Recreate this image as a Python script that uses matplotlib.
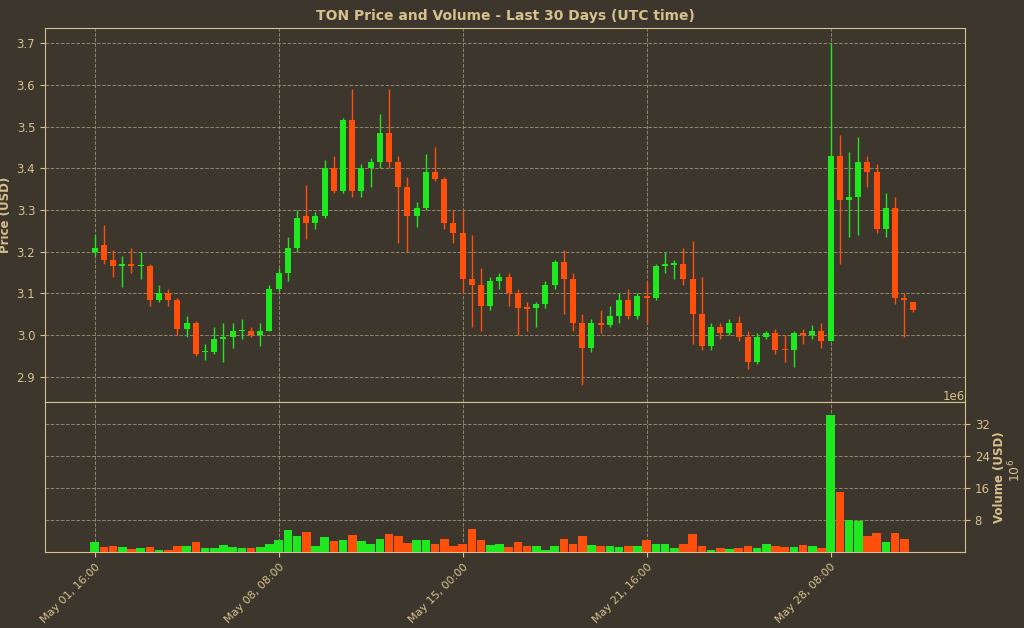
import matplotlib
matplotlib.use("Agg")
import matplotlib.pyplot as plt
import numpy as np

opens = [3.20,3.215,3.18,3.165,3.17,3.165,3.165,3.085,3.10,3.085,3.015,3.03,2.96,2.96,2.99,2.995,3.01,3.01,3.0,3.01,3.11,3.15,3.21,
         3.285,3.27,3.285,3.40,3.345,3.515,3.345,3.40,3.415,3.485,3.415,3.355,3.285,3.305,3.39,3.375,3.27,3.245,3.135,3.12,3.07,3.13,
         3.14,3.10,3.065,3.065,3.075,3.12,3.175,3.135,3.03,2.97,3.03,3.025,3.045,3.085,3.045,3.092,3.09,3.165,3.168,3.17,3.135,3.05,2.975,
         3.02,3.005,3.03,2.995,2.935,2.995,3.005,2.967,2.965,3.005,3.0,3.01,2.985,3.43,3.325,3.33,3.415,3.39,3.255,3.305,3.09,3.08]
closes = [3.21,3.18,3.165,3.17,3.165,3.168,3.085,3.10,3.085,3.015,3.03,2.955,2.963,2.99,2.995,3.01,3.012,3.0,3.01,3.11,3.15,3.21,3.28,
          3.27,3.285,3.40,3.345,3.515,3.345,3.40,3.415,3.485,3.415,3.355,3.285,3.305,3.39,3.375,3.27,3.245,3.135,3.12,3.07,3.13,3.14,
          3.10,3.065,3.064,3.075,3.12,3.175,3.135,3.03,2.97,3.03,3.025,3.045,3.085,3.045,3.095,3.09,3.165,3.17,3.172,3.135,3.05,2.975,3.02,
          3.005,3.03,2.995,2.935,2.995,3.005,2.965,2.965,3.005,3.0,3.01,2.985,3.43,3.325,3.33,3.415,3.39,3.255,3.305,3.09,3.085,3.06]
highs = [3.24,3.265,3.205,3.19,3.21,3.20,3.17,3.12,3.11,3.09,3.045,3.035,2.98,3.02,3.03,3.03,3.04,3.02,3.03,3.12,3.16,3.235,3.30,
         3.36,3.295,3.42,3.43,3.52,3.59,3.41,3.425,3.53,3.59,3.43,3.38,3.32,3.435,3.45,3.38,3.30,3.30,3.24,3.16,3.14,3.15,
         3.15,3.11,3.08,3.08,3.13,3.18,3.205,3.15,3.05,3.04,3.06,3.07,3.10,3.11,3.10,3.13,3.17,3.20,3.18,3.21,3.225,3.14,3.03,
         3.03,3.04,3.045,3.01,3.005,3.01,3.015,3.00,3.01,3.015,3.025,3.03,3.70,3.48,3.44,3.475,3.43,3.41,3.34,3.33,3.10,3.08]
lows = [3.19,3.17,3.14,3.115,3.15,3.135,3.07,3.08,3.07,3.00,2.995,2.95,2.94,2.955,2.935,2.97,2.99,2.995,2.975,3.01,3.105,3.13,3.20,
        3.23,3.255,3.28,3.34,3.34,3.33,3.33,3.355,3.40,3.40,3.22,3.20,3.26,3.30,3.37,3.255,3.22,3.10,3.02,3.01,3.06,3.11,
        3.07,3.00,3.01,3.02,3.065,3.11,3.05,3.01,2.88,2.96,3.005,3.02,3.03,3.04,3.04,3.03,3.085,3.15,3.135,3.12,2.98,2.965,2.965,
        2.99,3.00,2.985,2.92,2.93,2.99,2.955,2.935,2.925,2.98,2.99,2.97,2.985,3.17,3.235,3.24,3.355,3.245,3.235,3.075,2.995,3.055]
volumes = [2.4,1.2,1.4,1.2,0.75,1.0,1.25,0.6,0.6,1.4,1.4,2.4,0.9,0.9,1.75,1.2,0.9,1.0,1.2,2.0,3.1,5.4,4.1,5.1,1.6,3.75,2.8,2.9,4.2,2.7,
           2.0,3.25,4.6,3.9,2.25,2.9,3.1,2.1,3.25,1.6,2.1,5.8,2.9,1.7,2.1,1.25,2.4,1.4,1.6,0.6,1.4,3.25,2.0,3.9,1.8,1.6,1.4,1.2,1.6,1.6,
           2.9,2.0,2.1,1.0,2.0,4.6,1.6,0.6,1.0,0.75,1.0,1.4,1.0,2.0,1.4,1.2,1.2,1.8,1.4,1.0,34.3,15.0,8.1,7.7,4.1,4.75,2.5,4.75,3.25,0.0]
tick_pos = [0, 20, 40, 60, 80]
tick_labels = ["May 01, 16:00", "May 08, 08:00", "May 15, 00:00", "May 21, 16:00", "May 28, 08:00"]

BG = "#3d362d"
TAN = "#d6c08e"
GRID = "#a89a78"
GREEN = "#1ee81e"
RED = "#ff4f0a"

fig = plt.figure(figsize=(10.24, 6.28), dpi=100, facecolor=BG)
ax1 = fig.add_axes([45/1024, 1-402/628, 920/1024, 374/628], facecolor=BG)
ax2 = fig.add_axes([45/1024, 1-552/628, 920/1024, 150/628], facecolor=BG, sharex=ax1)

x = np.arange(len(opens))
o = np.array(opens); c = np.array(closes)
up = c >= o
cols = np.where(up, GREEN, RED)
ax1.vlines(x, lows, highs, colors=cols, linewidth=1, zorder=3)
body = np.abs(c - o)
body = np.where(body < 0.003, 0.003, body)
ax1.bar(x, body, bottom=np.minimum(o, c), width=0.65, color=cols, zorder=4)
ax2.bar(x, volumes, width=0.95, color=cols, zorder=3)

ax1.set_xlim(-5.4, 94.6)
ax1.set_ylim(2.84, 3.736)
ax1.set_yticks([2.9, 3.0, 3.1, 3.2, 3.3, 3.4, 3.5, 3.6, 3.7])
ax2.set_ylim(0, 37.5)
ax2.set_yticks([8, 16, 24, 32])
ax2.yaxis.tick_right()
ax2.yaxis.set_label_position("right")
ax1.set_ylabel("Price (USD)", color=TAN, fontsize=8.5, fontweight="bold", labelpad=3)
ax2.set_ylabel("Volume (USD)", color=TAN, fontsize=8.5, fontweight="bold", labelpad=2)
ax1.set_title("TON Price and Volume - Last 30 Days (UTC time)", color=TAN, fontsize=10, fontweight="bold", pad=6)
ax2.set_xticks(tick_pos)
ax2.set_xticklabels(tick_labels, rotation=45, ha="right", rotation_mode="anchor", fontsize=8)
plt.setp(ax1.get_xticklabels(), visible=False)
ax1.tick_params(axis="x", length=0)
for ax in (ax1, ax2):
    ax.grid(True, color=GRID, linestyle="--", linewidth=0.7, alpha=0.8)
    ax.tick_params(colors=TAN, labelsize=8.5)
    for s in ax.spines.values():
        s.set_color(TAN)
ax2.tick_params(axis="x", labelsize=8)
fig.text(965/1024, 1-396/628, "1e6", color=TAN, fontsize=8.5, ha="right", va="center")
fig.text(1015/1024, 1-470/628, r"$10^6$", color=TAN, fontsize=9, rotation=90, ha="center", va="center")
fig.savefig("out.png", dpi=100, facecolor=BG)
